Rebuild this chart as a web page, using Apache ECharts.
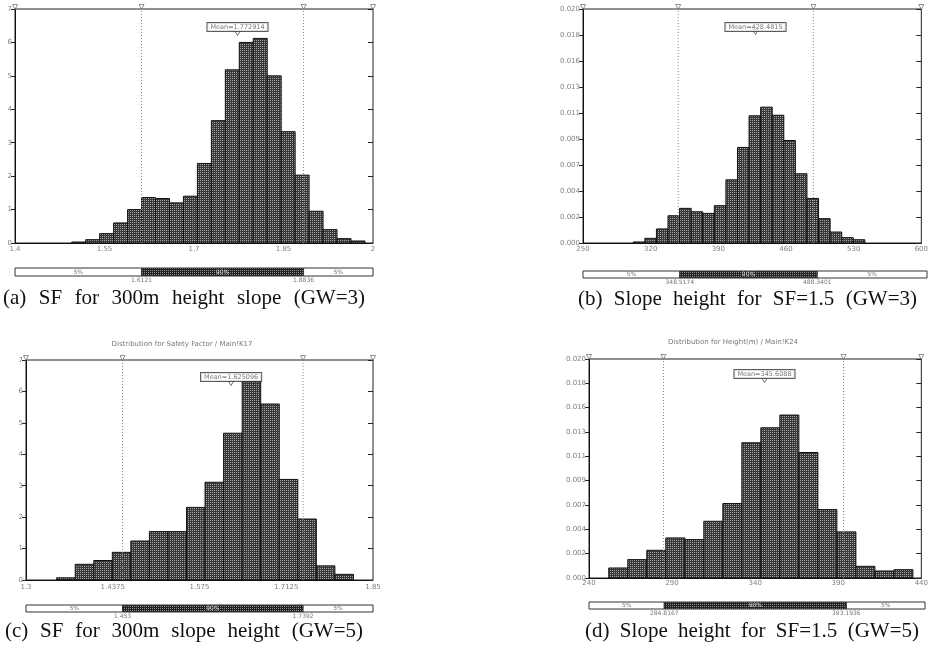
<!DOCTYPE html>
<html>
<head>
<meta charset="utf-8">
<script src="https://cdn.jsdelivr.net/npm/echarts@6/dist/echarts.min.js"></script>
<style>
  html, body { margin: 0; padding: 0; background: #fff; }
  #chart { width: 931px; height: 658px; }
</style>
</head>
<body>
<div id="chart"></div>
<script>
// ---- Simulated distributions (probability density per bin) ----

// (a) SF for 300 m height slope, GW=3
const sfGw3BinStart = 1.4951;
const sfGw3BinWidth = 0.0234;
const sfGw3Density = [0.03, 0.1, 0.28, 0.6, 1.0, 1.36, 1.33, 1.2, 1.4, 2.38, 3.66,
                      5.18, 6.0, 6.12, 5.0, 3.33, 2.03, 0.95, 0.4, 0.13, 0.06];
const sfGw3XTicks = [1.4, 1.55, 1.7, 1.85, 2];
const sfGw3YMax = 7, sfGw3YSteps = 7;
const sfGw3Mean = 1.772914, sfGw3P5 = 1.6121, sfGw3P95 = 1.8836;

// (b) Slope height for SF=1.5, GW=3
const hGw3BinStart = 302.0;
const hGw3BinWidth = 11.98;
const hGw3Density = [0.00009, 0.0004, 0.0012, 0.00233, 0.00296, 0.00267, 0.00253, 0.00319,
                     0.0054, 0.00817, 0.01087, 0.01161, 0.01092, 0.00876, 0.00592, 0.00381,
                     0.00208, 0.00094, 0.00046, 0.00028];
const hGw3XTicks = [250, 320, 390, 460, 530, 600];
const hGw3YMax = 0.020, hGw3YSteps = 9;
const hGw3Mean = 428.4815, hGw3P5 = 348.5174, hGw3P95 = 488.3401;

// (c) SF for 300 m slope height, GW=5
const sfGw5BinStart = 1.3486;
const sfGw5BinWidth = 0.0294;
const sfGw5Density = [0.07, 0.5, 0.62, 0.88, 1.24, 1.54, 1.54, 2.31, 3.11, 4.67, 6.31,
                      5.6, 3.2, 1.94, 0.45, 0.18];
const sfGw5XTicks = [1.3, 1.4375, 1.575, 1.7125, 1.85];
const sfGw5YMax = 7, sfGw5YSteps = 7;
const sfGw5Mean = 1.625096, sfGw5P5 = 1.453, sfGw5P95 = 1.7392;

// (d) Slope height for SF=1.5, GW=5
const hGw5BinStart = 251.9;
const hGw5BinWidth = 11.44;
const hGw5Density = [0.000915, 0.00168, 0.00253, 0.00366, 0.00351, 0.00518, 0.0068, 0.01235,
                     0.01372, 0.01488, 0.01146, 0.00625, 0.00421, 0.00107, 0.00064, 0.00076];
const hGw5XTicks = [240, 290, 340, 390, 440];
const hGw5YMax = 0.020, hGw5YSteps = 9;
const hGw5Mean = 345.6088, hGw5P5 = 284.8167, hGw5P95 = 393.1936;

const captions = [
  '(a) SF for 300m height slope (GW=3)',
  '(b) Slope height for SF=1.5 (GW=3)',
  '(c) SF for 300m slope height (GW=5)',
  '(d) Slope height for SF=1.5 (GW=5)'
];
const chartTitles = ['', '', 'Distribution for Safety Factor / Main!K17', 'Distribution for Height(m) / Main!K24'];

// ---- Panel assembly ----
const panelData = [
  { start: sfGw3BinStart, width: sfGw3BinWidth, dens: sfGw3Density, ticks: sfGw3XTicks, yMax: sfGw3YMax, ySteps: sfGw3YSteps, mean: sfGw3Mean, p5: sfGw3P5, p95: sfGw3P95, yDec: 0 },
  { start: hGw3BinStart, width: hGw3BinWidth, dens: hGw3Density, ticks: hGw3XTicks, yMax: hGw3YMax, ySteps: hGw3YSteps, mean: hGw3Mean, p5: hGw3P5, p95: hGw3P95, yDec: 3 },
  { start: sfGw5BinStart, width: sfGw5BinWidth, dens: sfGw5Density, ticks: sfGw5XTicks, yMax: sfGw5YMax, ySteps: sfGw5YSteps, mean: sfGw5Mean, p5: sfGw5P5, p95: sfGw5P95, yDec: 0 },
  { start: hGw5BinStart, width: hGw5BinWidth, dens: hGw5Density, ticks: hGw5XTicks, yMax: hGw5YMax, ySteps: hGw5YSteps, mean: hGw5Mean, p5: hGw5P5, p95: hGw5P95, yDec: 3 }
];

// Page layout of each panel
const layout = [
  { grid: { left: 15, top: 9, width: 358, height: 234 }, sumTop: 268, sumH: 8, valDy: 4, xMargin: 1, boxOff: 18, triOff: 24,
    cap: { left: 3, right: 365, y: 298 }, title: null },
  { grid: { left: 583, top: 9, width: 344, height: 234 }, sumTop: 271, sumH: 7, valDy: 4, xMargin: 1, boxOff: 18, triOff: 23,
    cap: { left: 578, right: 917, y: 299 }, title: null },
  { grid: { left: 26, top: 360, width: 347, height: 220 }, sumTop: 605, sumH: 7, valDy: 4, xMargin: 2, boxOff: 17, triOff: 23,
    cap: { left: 5, right: 363, y: 631 }, title: { x: 182, y: 344 } },
  { grid: { left: 589, top: 359, width: 336, height: 219 }, sumTop: 602, sumH: 7, valDy: 4, xMargin: 0, boxOff: 15, triOff: 21,
    cap: { left: 585, right: 919, y: 631 }, title: { x: 733, y: 342 } }
];

// Cross-hatched fills
function makeTexture(dark, light) {
  const c = document.createElement('canvas');
  c.width = 2; c.height = 2;
  const g = c.getContext('2d');
  g.fillStyle = dark; g.fillRect(0, 0, 2, 2);
  g.fillStyle = light; g.fillRect(0, 0, 1, 1);
  return { image: c, repeat: 'repeat' };
}
const barFill = makeTexture('#383838', '#a4a4a4');
const bandFill = makeTexture('#222222', '#8c8c8c');

const numFmt = v => String(+v.toFixed(4));

const mainGrids = [], sumGrids = [], mainX = [], sumX = [], mainY = [], innerY = [], sumY = [];
const series = [], graphics = [];

panelData.forEach((p, i) => {
  const L = layout[i];
  const xMin = p.ticks[0], xMax = p.ticks[p.ticks.length - 1];
  const xInt = p.ticks[1] - p.ticks[0];
  const yInt = p.yMax / p.ySteps;

  mainGrids.push(Object.assign({ show: true, borderColor: '#222', borderWidth: 1, backgroundColor: 'transparent' }, L.grid));
  mainX.push({
    gridIndex: i, type: 'value', min: xMin, max: xMax, interval: xInt,
    axisLine: { show: true, onZero: false, lineStyle: { color: '#111', width: 1 } },
    axisTick: { show: false }, splitLine: { show: false },
    axisLabel: { fontSize: 7, color: '#808080', fontFamily: 'DejaVu Sans', margin: L.xMargin + 2,
                 showMinLabel: true, showMaxLabel: true, hideOverlap: false, formatter: numFmt }
  });
  mainY.push({
    gridIndex: i, type: 'value', min: 0, max: p.yMax, interval: yInt,
    axisLine: { show: true, lineStyle: { color: '#111', width: 1 } },
    axisTick: { show: true, length: 4, lineStyle: { color: '#222' } }, splitLine: { show: false },
    axisLabel: { fontSize: 7, color: '#808080', fontFamily: 'DejaVu Sans', margin: 3,
                 showMinLabel: true, showMaxLabel: true, hideOverlap: false,
                 formatter: v => v.toFixed(p.yDec) }
  });
  // inward half of the crossing y-axis ticks
  innerY.push({
    gridIndex: i, type: 'value', min: 0, max: p.yMax, interval: yInt,
    axisLine: { show: false }, axisLabel: { show: false }, splitLine: { show: false },
    axisTick: { show: true, inside: true, length: 5, lineStyle: { color: '#222' } }
  });

  // Histogram bars
  const bins = p.dens.map((d, k) => [p.start + k * p.width, p.start + (k + 1) * p.width, d]);
  series.push({
    type: 'custom', xAxisIndex: i, yAxisIndex: i, z: 2, clip: false,
    encode: { x: [0, 1], y: 2 },
    data: bins,
    renderItem: (params, api) => {
      const a = api.coord([api.value(0), api.value(2)]);
      const b = api.coord([api.value(1), 0]);
      return { type: 'rect', shape: { x: a[0], y: a[1], width: b[0] - a[0], height: b[1] - a[1] },
               style: { fill: barFill, stroke: '#111', lineWidth: 1 } };
    }
  });

  // 5% and 95% percentile guides
  [p.p5, p.p95].forEach(v => {
    series.push({
      type: 'line', xAxisIndex: i, yAxisIndex: i, z: 3, symbol: 'none', silent: true,
      data: [[v, 0], [v, p.yMax]],
      lineStyle: { color: '#8a8a8a', width: 1, type: [1, 2] }
    });
  });

  // Slider markers along the top edge
  series.push({
    type: 'scatter', xAxisIndex: i, yAxisIndex: i, z: 4, clip: false, silent: true,
    symbol: 'triangle', symbolRotate: 180, symbolSize: [5, 5], symbolOffset: [0, -2],
    itemStyle: { color: '#fff', borderColor: '#555', borderWidth: 0.8 },
    data: [[xMin, p.yMax], [p.p5, p.yMax], [p.p95, p.yMax], [xMax, p.yMax]]
  });

  // Mean marker and its label box
  series.push({
    type: 'scatter', xAxisIndex: i, yAxisIndex: i, z: 5, clip: false, silent: true,
    symbol: 'triangle', symbolRotate: 180, symbolSize: [6, 5], symbolOffset: [0, L.triOff],
    itemStyle: { color: '#fff', borderColor: '#222', borderWidth: 0.8 },
    data: [[p.mean, p.yMax]]
  });
  series.push({
    type: 'scatter', xAxisIndex: i, yAxisIndex: i, z: 6, clip: false, silent: true,
    symbolSize: 0,
    label: { show: true, position: 'inside', offset: [0, L.boxOff], formatter: 'Mean=' + p.mean,
             fontSize: 6.5, fontFamily: 'DejaVu Sans', color: '#555', backgroundColor: '#fff',
             borderColor: '#333', borderWidth: 1, padding: [1, 3, 0, 3] },
    data: [[p.mean, p.yMax]]
  });

  // 5% / 90% / 5% summary band
  const gi = 4 + i;
  sumGrids.push({ left: L.grid.left, width: L.grid.width, top: L.sumTop, height: L.sumH });
  sumX.push({ gridIndex: gi, type: 'value', min: xMin, max: xMax, show: false });
  sumY.push({ gridIndex: gi, type: 'value', min: 0, max: 1, show: false });
  const bands = [[xMin, p.p5, 0], [p.p5, p.p95, 1], [p.p95, xMax, 2]];
  series.push({
    type: 'custom', xAxisIndex: gi, yAxisIndex: 8 + i, clip: false,
    encode: { x: [0, 1] },
    data: bands,
    renderItem: (params, api) => {
      const kind = api.value(2);
      const a = api.coord([api.value(0), 1]);
      const b = api.coord([api.value(1), 0]);
      const mid = kind === 1;
      const h = b[1] - a[1];
      const children = [
        { type: 'rect', shape: { x: a[0], y: a[1], width: b[0] - a[0], height: h },
          style: { fill: mid ? bandFill : '#fff', stroke: '#333', lineWidth: 1 } },
        { type: 'text', style: { text: mid ? '90%' : '5%', x: (a[0] + b[0]) / 2, y: a[1] + h / 2,
          align: 'center', verticalAlign: 'middle', font: '6px "DejaVu Sans"', fill: mid ? '#d8d8d8' : '#777' } }
      ];
      if (mid) {
        [[a[0], api.value(0)], [b[0], api.value(1)]].forEach(([px, v]) => {
          children.push({ type: 'text', style: { text: String(v), x: px, y: b[1] + L.valDy,
            align: 'center', verticalAlign: 'middle', font: '6px "DejaVu Sans"', fill: '#777' } });
        });
      }
      return { type: 'group', children };
    }
  });

  // Caption, spread across its line
  const capFont = '21px "Liberation Serif"';
  const ctx = document.createElement('canvas').getContext('2d');
  ctx.font = capFont;
  const words = captions[i].split(' ');
  const widths = words.map(w => ctx.measureText(w).width);
  const gap = (L.cap.right - L.cap.left - widths.reduce((s, w) => s + w, 0)) / (words.length - 1);
  let x = L.cap.left;
  words.forEach((w, k) => {
    graphics.push({ type: 'text', x: x, y: L.cap.y, style: { text: w, font: capFont, fill: '#111', verticalAlign: 'middle' } });
    x += widths[k] + gap;
  });

  if (L.title) {
    graphics.push({ type: 'text', x: L.title.x, y: L.title.y,
      style: { text: chartTitles[i], font: '7px "DejaVu Sans"', fill: '#777', align: 'center', verticalAlign: 'middle' } });
  }
});

const chart = echarts.init(document.getElementById('chart'));
chart.setOption({
  animation: false,
  backgroundColor: '#fff',
  grid: mainGrids.concat(sumGrids),
  xAxis: mainX.concat(sumX),
  yAxis: mainY.concat(innerY, sumY),
  series: series,
  graphic: graphics
});
</script>
</body>
</html>
